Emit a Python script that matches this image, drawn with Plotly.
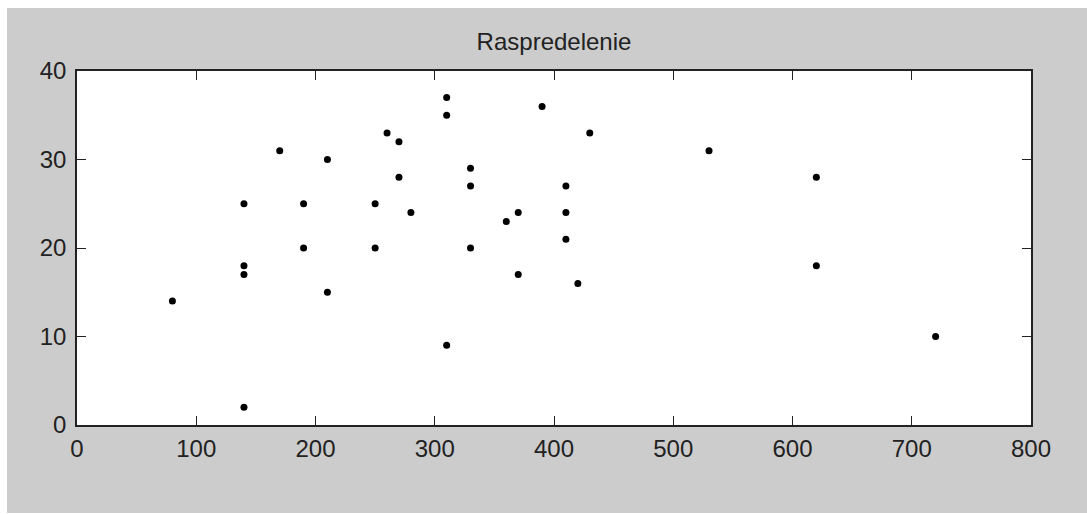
import plotly.graph_objects as go

x_vals = [80, 140, 140, 140, 140, 170, 190, 190, 210, 210, 250, 250, 260, 270, 270, 280,
          310, 310, 310, 330, 330, 330, 360, 370, 370, 390, 410, 410, 410, 420, 430,
          530, 620, 620, 720]
y_vals = [14, 25, 18, 17, 2, 31, 25, 20, 30, 15, 25, 20, 33, 32, 28, 24,
          37, 35, 9, 29, 27, 20, 23, 24, 17, 36, 27, 24, 21, 16, 33,
          31, 28, 18, 10]
x_ticks = [0, 100, 200, 300, 400, 500, 600, 700, 800]
y_ticks = [0, 10, 20, 30, 40]
title_text = "Raspredelenie"

FONT = "Liberation Sans, Arial, sans-serif"
AX = "#222222"

fig = go.Figure(go.Scatter(
    x=x_vals, y=y_vals, mode="markers",
    marker=dict(color="black", size=7, symbol="circle"),
    showlegend=False, hoverinfo="x+y"))

axis_common = dict(
    showgrid=False, zeroline=False, showline=True, linecolor=AX, linewidth=1.5,
    mirror="ticks", ticks="inside", ticklen=9, tickwidth=1, tickcolor=AX,
    tickfont=dict(family=FONT, size=24, color=AX))

fig.update_xaxes(range=[0, 800], tickvals=x_ticks, ticklabelstandoff=1, **axis_common)
fig.update_yaxes(range=[0, 40], tickvals=y_ticks, ticklabelstandoff=4, **axis_common)

fig.update_layout(
    width=1080, height=505,
    margin=dict(l=70, r=56, t=63, b=88, pad=0),
    paper_bgcolor="#cccccc", plot_bgcolor="white",
    title=dict(text=title_text, x=0.5, xref="paper", xanchor="center",
               y=1, yref="paper", yanchor="bottom", pad=dict(b=21),
               font=dict(family=FONT, size=24, color=AX)),
)

post = ("document.body.style.margin='8px 0 0 7px';"
        "document.body.style.overflow='hidden';"
        "document.documentElement.style.overflow='hidden';")
fig.write_html("out.html", post_script=post)
